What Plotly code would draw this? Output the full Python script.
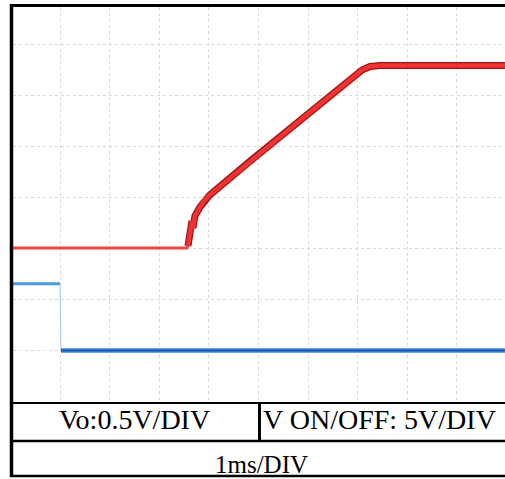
import plotly.graph_objects as go

# ---- data (time in ms, 1 ms/DIV) ----
red_t = [-0.95, 2.56, 2.58, 2.62, 2.66, 2.68, 2.72, 2.82, 2.92, 3.02, 3.83, 4.84, 5.85, 6.09, 6.25, 6.45, 8.97]
red_v = [0.0, 0.0, 0.02, 0.157, 0.265, 0.196, 0.314, 0.40, 0.47, 0.52, 0.85, 1.25, 1.65, 1.745, 1.78, 1.79, 1.79]   # Vo, 0.5 V/DIV
blue_t = [-0.95, 0.0, 0.02, 8.97]
blue_v = [6.5, 6.5, -0.05, -0.05]   # V ON/OFF, 5 V/DIV
label_vo = "Vo:0.5V/DIV"
label_on = "V ON/OFF: 5V/DIV"
label_t = "1ms/DIV"

W, H = 505, 479
fig = go.Figure()

# blue trace
fig.add_trace(go.Scatter(x=blue_t, y=blue_v, yaxis="y2", mode="lines",
                         line=dict(color="#a9c6e6", width=1), hoverinfo="skip"))
fig.add_trace(go.Scatter(x=blue_t[:2], y=blue_v[:2], yaxis="y2", mode="lines",
                         line=dict(color="#4b9be6", width=3), hoverinfo="skip"))
fig.add_trace(go.Scatter(x=blue_t[2:], y=blue_v[2:], yaxis="y2", mode="lines",
                         line=dict(color="#3a84dc", width=4.5), hoverinfo="skip"))
fig.add_trace(go.Scatter(x=blue_t[2:], y=blue_v[2:], yaxis="y2", mode="lines",
                         line=dict(color="#1d55ab", width=1.5), hoverinfo="skip"))

# red trace
fig.add_trace(go.Scatter(x=red_t[:3], y=red_v[:3], mode="lines",
                         line=dict(color="#ec4646", width=3), hoverinfo="skip"))
fig.add_trace(go.Scatter(x=red_t[2:], y=red_v[2:], mode="lines",
                         line=dict(color="#9e1414", width=7), hoverinfo="skip"))
fig.add_trace(go.Scatter(x=red_t[2:], y=red_v[2:], mode="lines",
                         line=dict(color="#f23232", width=4.5), hoverinfo="skip"))

px2x = lambda p: p / W
py2y = lambda p: 1 - p / H

x0_px, x1_px = 13, 505
y0_px, y1_px = 7, 402
grid_col = "#d8d8d8"

fig.update_layout(
    width=W, height=H, margin=dict(l=0, r=0, t=0, b=0),
    paper_bgcolor="white", plot_bgcolor="white", showlegend=False,
    xaxis=dict(domain=[px2x(x0_px), px2x(x1_px)],
               range=[-(60 - x0_px) / 49.6, (x1_px - 60) / 49.6],
               tick0=0, dtick=1, showgrid=True, gridcolor=grid_col, griddash="dot", gridwidth=1,
               zeroline=False, showticklabels=False, ticks="", showline=False),
    yaxis=dict(domain=[py2y(y1_px), py2y(y0_px)],
               range=[-(y1_px - 248) * 0.5 / 51, (248 - y0_px) * 0.5 / 51],
               tick0=0, dtick=0.5, showgrid=True, gridcolor=grid_col, griddash="dot", gridwidth=1,
               zeroline=False, showticklabels=False, ticks="", showline=False),
    yaxis2=dict(overlaying="y", range=[-(y1_px - 350) * 5 / 51, (350 - y0_px) * 5 / 51],
                showgrid=False, zeroline=False, showticklabels=False, ticks="", showline=False),
)

shapes = []
def hline(py, xa, xb, w):
    shapes.append(dict(type="line", xref="paper", yref="paper", x0=px2x(xa), x1=px2x(xb),
                       y0=py2y(py), y1=py2y(py), line=dict(color="black", width=w)))
def vline(px, ya, yb, w):
    shapes.append(dict(type="line", xref="paper", yref="paper", x0=px2x(px), x1=px2x(px),
                       y0=py2y(ya), y1=py2y(yb), line=dict(color="black", width=w)))

vline(11.5, 4, 477, 3.5)
hline(5.5, 10, 505, 3)
hline(403, 10, 505, 2)
hline(441, 10, 505, 2.5)
hline(476, 10, 505, 2.5)
vline(259.5, 403, 441, 3)
fig.update_layout(shapes=shapes)

fam = "Liberation Serif, Times New Roman, serif"
font_top = dict(family=fam, size=28, color="black")
font_bot = dict(family=fam, size=25, color="black")
fig.add_annotation(text=label_vo, xref="paper", yref="paper", x=px2x(134), y=py2y(419),
                   xanchor="center", yanchor="middle", showarrow=False, font=font_top)
fig.add_annotation(text=label_on, xref="paper", yref="paper", x=px2x(261), y=py2y(419),
                   xanchor="left", yanchor="middle", showarrow=False, font=font_top)
fig.add_annotation(text=label_t, xref="paper", yref="paper", x=px2x(261.5), y=py2y(464),
                   xanchor="center", yanchor="middle", showarrow=False, font=font_bot)

fig.write_html("out.html")
